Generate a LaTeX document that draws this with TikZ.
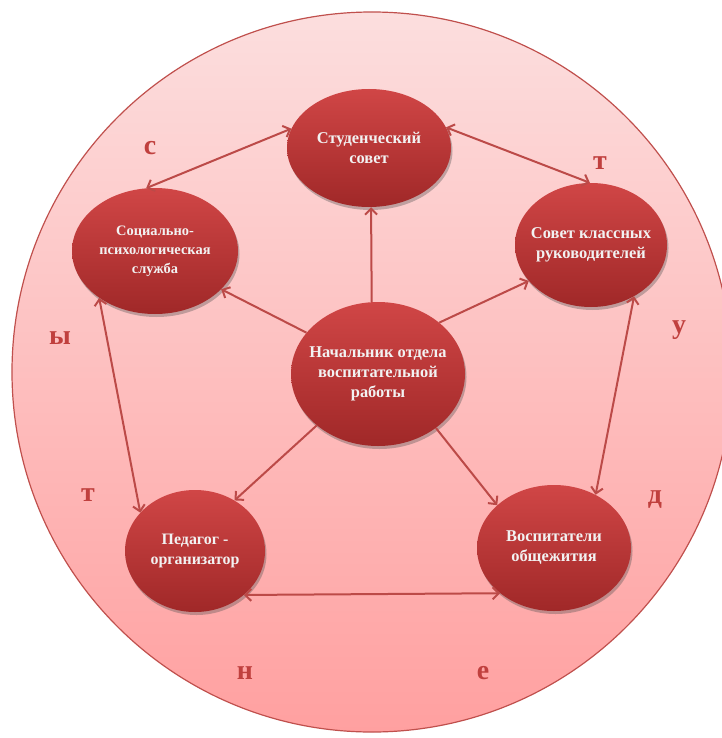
\documentclass[tikz,border=0pt]{standalone}
\usepackage{fontspec}
\setmainfont{Liberation Serif}
\usetikzlibrary{arrows.meta,shadows,shapes.geometric}
\definecolor{rimc}{HTML}{C0504D}
\definecolor{bgtop}{HTML}{FCDEDE}
\definecolor{bgbot}{HTML}{FFA0A0}
\definecolor{ndtop}{HTML}{D04646}
\definecolor{ndmid}{HTML}{C03636}
\definecolor{ndbot}{HTML}{A02828}
\definecolor{arrc}{HTML}{BC4A48}
\definecolor{letc}{HTML}{C0403E}
\begin{document}
\begin{tikzpicture}[x=1bp,y=-1bp,
  nd/.style={ellipse, draw=none, top color=ndtop, middle color=ndmid, bottom color=ndbot,
    drop shadow={shadow xshift=1.5bp, shadow yshift=-3bp, opacity=0.35, fill=black!70},
    inner xsep=-12bp, inner ysep=0bp, align=center, text=white!95!black,
    font=\bfseries\fontsize{16.5}{20}\selectfont},
  arr/.style={draw=arrc, line width=2bp, -{Straight Barb[length=6bp,width=12bp]}},
  biarr/.style={draw=arrc, line width=2bp, {Straight Barb[length=6bp,width=12bp]}-{Straight Barb[length=6bp,width=12bp]}},
  lt/.style={text=letc, font=\bfseries\fontsize{28}{28}\selectfont, inner sep=0pt}]
\useasboundingbox (0,0) rectangle (722,738);
\clip (0,0) rectangle (722,738);
\path[draw=rimc, line width=1.2bp, top color=bgtop, bottom color=bgbot] (372,372) circle[radius=360bp];

\node[nd, minimum width=164bp, minimum height=118bp] (stud) at (369,148) {Студенческий\\совет};
\node[nd, minimum width=166bp, minimum height=126bp, font=\bfseries\fontsize{14.5}{19}\selectfont] (soc) at (155,251) {Социально-\\психологическая\\служба};
\node[nd, minimum width=152bp, minimum height=124bp] (sov) at (591,245) {Совет классных\\руководителей};
\node[nd, minimum width=174bp, minimum height=144bp] (ctr) at (378,374) {Начальник отдела\\воспитательной\\работы};
\node[nd, minimum width=140bp, minimum height=122bp, font=\bfseries\fontsize{16}{20}\selectfont] (ped) at (195,551) {Педагог -\\организатор};
\node[nd, minimum width=154bp, minimum height=126bp] (vos) at (554,548) {Воспитатели\\общежития};

\draw[arr] (ctr.95) -- (stud.272);
\draw[arr] (ctr.150) -- (soc.330);
\draw[arr] (ctr.40) -- (sov.210);
\draw[arr] (ctr.220) -- (ped.52);
\draw[arr] (ctr.317) -- (vos.143);

\draw[biarr] (stud.166) -- (soc.98);
\draw[biarr] (stud.15) -- (sov.91);
\draw[biarr] (soc.220) -- (ped.145);
\draw[biarr] (sov.310) -- (vos.52);
\draw[biarr] (ped.318) -- (vos.220);

\node[lt] (l1) at (150,148) {с};
\node[lt] (l2) at (600,163) {т};
\node[lt] (l3) at (679,330) {у};
\node[lt] (l4) at (655,500) {д};
\node[lt] (l5) at (483,673) {е};
\node[lt] (l6) at (245,673) {н};
\node[lt] (l7) at (88,495) {т};
\node[lt] (l8) at (60,338) {ы};
\end{tikzpicture}
\end{document}
